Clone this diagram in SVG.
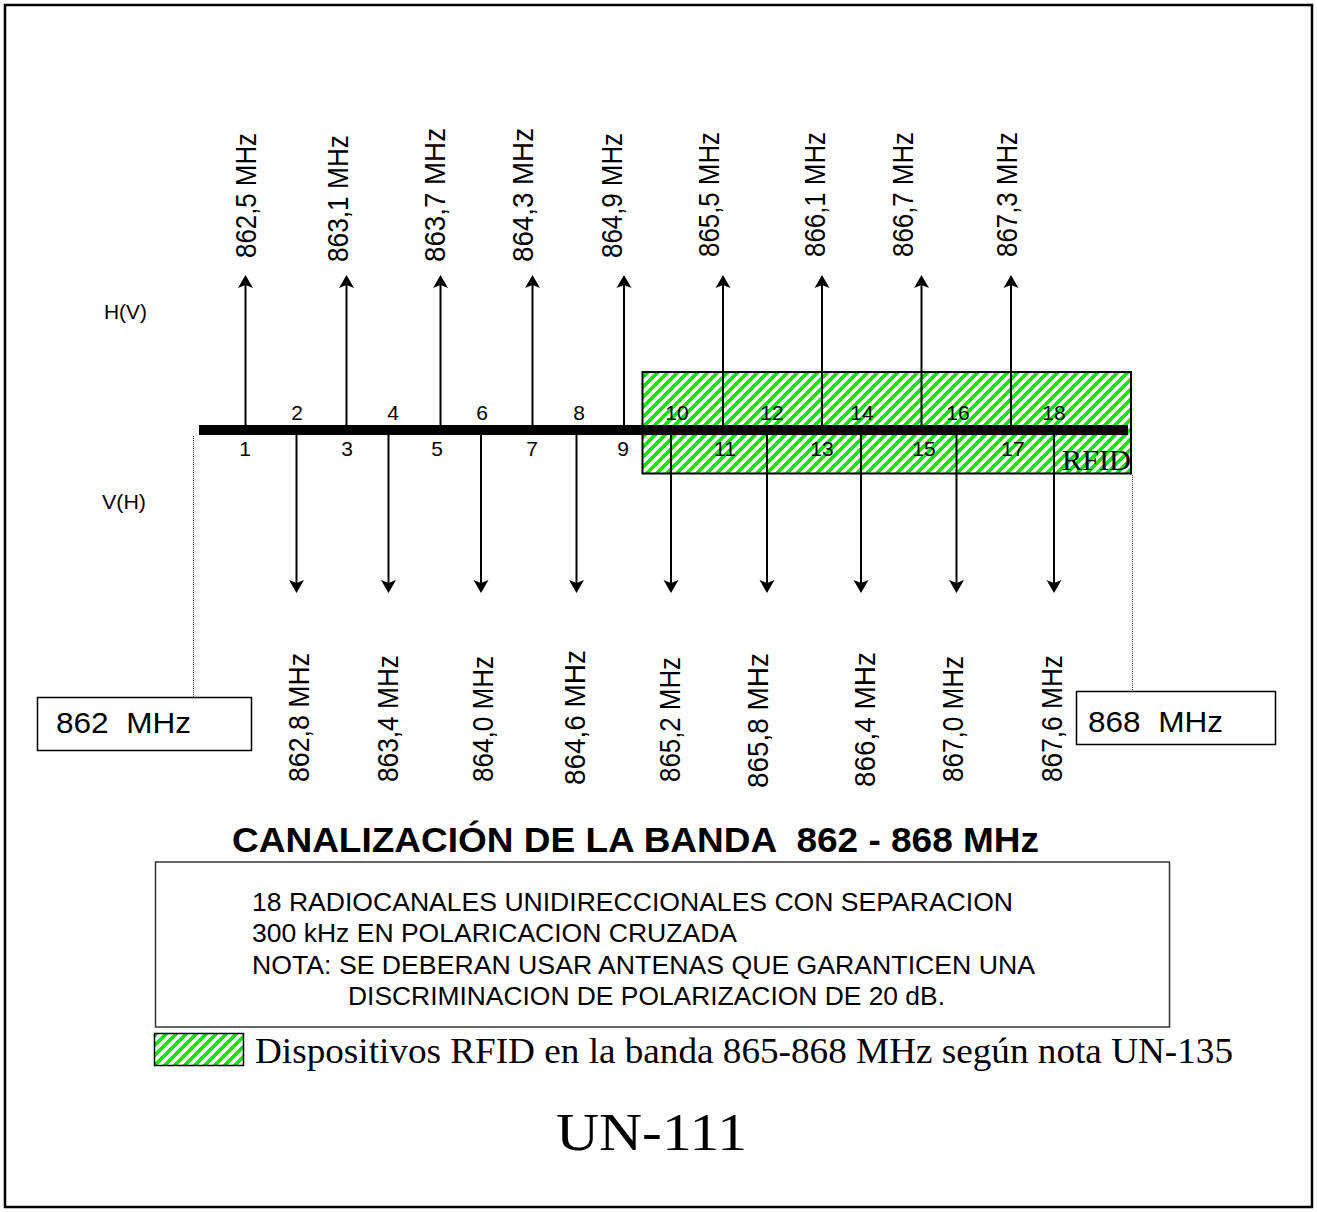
<svg xmlns="http://www.w3.org/2000/svg" width="1317" height="1212" viewBox="0 0 1317 1212">
<style>
.sans{font-family:"Liberation Sans",Arial,sans-serif;fill:#000}
.serif{font-family:"Liberation Serif","Times New Roman",serif;fill:#000}
.freq{font-size:30px}
.num{font-size:21px;text-anchor:middle}
.shaft{stroke:#000;stroke-width:2;fill:none}
.up{marker-end:url(#arrow)}
.dot{stroke:#444;stroke-width:1;stroke-dasharray:1 1;fill:none}
.box{fill:#fff;stroke:#000;stroke-width:1.5}
</style>
<defs>
<marker id="arrow" viewBox="-4 -8 15 16" markerWidth="15" markerHeight="16" refX="0" refY="0" orient="auto" markerUnits="userSpaceOnUse">
<path d="M10,0 L-3,-7.5 L0,0 L-3,7.5 Z" fill="#000"/>
</marker>
<pattern id="hatch" patternUnits="userSpaceOnUse" width="10" height="10">
<rect width="10" height="10" fill="#fff"/>
<path d="M-2,2 L2,-2 M0,10 L10,0 M8,12 L12,8" stroke="#00e600" stroke-width="3.6"/>
</pattern>
</defs>

<rect id="frame" x="5" y="5" width="1307" height="1202" fill="#fff" stroke="#000" stroke-width="2.5"/>

<g id="labels-side" class="sans">
<text x="104" y="319" font-size="21" textLength="43" lengthAdjust="spacingAndGlyphs">H(V)</text>
<text x="102" y="509" font-size="21" textLength="44" lengthAdjust="spacingAndGlyphs">V(H)</text>
</g>

<g id="rfid-band">
<rect x="642.5" y="372" width="488.5" height="101.5" fill="url(#hatch)" stroke="#000" stroke-width="2"/>
</g>

<g id="connectors">
<line class="dot" x1="193.5" y1="436" x2="193.5" y2="697"/>
<line class="dot" x1="1132.5" y1="475" x2="1132.5" y2="691"/>
<g id="up-arrows">
<line class="shaft up" x1="245.5" y1="426" x2="245.5" y2="285"/>
<line class="shaft up" x1="346.5" y1="426" x2="346.5" y2="285"/>
<line class="shaft up" x1="440.5" y1="426" x2="440.5" y2="285"/>
<line class="shaft up" x1="532.5" y1="426" x2="532.5" y2="285"/>
<line class="shaft up" x1="624" y1="426" x2="624" y2="285"/>
<line class="shaft up" x1="723" y1="426" x2="723" y2="285"/>
<line class="shaft up" x1="822" y1="426" x2="822" y2="285"/>
<line class="shaft up" x1="921.5" y1="426" x2="921.5" y2="285"/>
<line class="shaft up" x1="1011" y1="426" x2="1011" y2="285"/>
</g>
<g id="down-arrows">
<line class="shaft up" x1="296.5" y1="434" x2="296.5" y2="583"/>
<line class="shaft up" x1="388.5" y1="434" x2="388.5" y2="583"/>
<line class="shaft up" x1="481" y1="434" x2="481" y2="583"/>
<line class="shaft up" x1="576.5" y1="434" x2="576.5" y2="583"/>
<line class="shaft up" x1="671" y1="434" x2="671" y2="583"/>
<line class="shaft up" x1="767" y1="434" x2="767" y2="583"/>
<line class="shaft up" x1="861" y1="434" x2="861" y2="583"/>
<line class="shaft up" x1="956.5" y1="434" x2="956.5" y2="583"/>
<line class="shaft up" x1="1054" y1="434" x2="1054" y2="583"/>
</g>
</g>

<g id="band-axis">
<rect x="199" y="425" width="929" height="10" fill="#000"/>
</g>

<g id="channel-numbers" class="sans num">
<text x="245" y="456">1</text>
<text x="297" y="420">2</text>
<text x="347" y="456">3</text>
<text x="393" y="420">4</text>
<text x="437" y="456">5</text>
<text x="482" y="420">6</text>
<text x="532" y="456">7</text>
<text x="579" y="420">8</text>
<text x="623" y="456">9</text>
<text x="677" y="420">10</text>
<text x="725" y="456">11</text>
<text x="772" y="420">12</text>
<text x="822" y="456">13</text>
<text x="862" y="420">14</text>
<text x="924" y="456">15</text>
<text x="958" y="420">16</text>
<text x="1013" y="456">17</text>
<text x="1054" y="420">18</text>
</g>

<text id="rfid-label" class="serif" x="1062" y="470" font-size="30" textLength="69" lengthAdjust="spacingAndGlyphs">RFID</text>

<g id="freq-up" class="sans freq" xml:space="preserve">
<text transform="translate(256,258) rotate(-90)" textLength="125" lengthAdjust="spacingAndGlyphs">862,5 MHz</text>
<text transform="translate(348,262) rotate(-90)" textLength="127" lengthAdjust="spacingAndGlyphs">863,1 MHz</text>
<text transform="translate(445,262) rotate(-90)" textLength="134" lengthAdjust="spacingAndGlyphs">863,7  MHz</text>
<text transform="translate(533,262) rotate(-90)" textLength="134" lengthAdjust="spacingAndGlyphs">864,3  MHz</text>
<text transform="translate(622,258) rotate(-90)" textLength="125" lengthAdjust="spacingAndGlyphs">864,9 MHz</text>
<text transform="translate(719,257) rotate(-90)" textLength="125" lengthAdjust="spacingAndGlyphs">865,5 MHz</text>
<text transform="translate(825,257) rotate(-90)" textLength="125" lengthAdjust="spacingAndGlyphs">866,1 MHz</text>
<text transform="translate(913,257) rotate(-90)" textLength="125" lengthAdjust="spacingAndGlyphs">866,7 MHz</text>
<text transform="translate(1017,257) rotate(-90)" textLength="125" lengthAdjust="spacingAndGlyphs">867,3 MHz</text>
</g>

<g id="freq-down" class="sans freq" xml:space="preserve">
<text transform="translate(309,782) rotate(-90)" textLength="129" lengthAdjust="spacingAndGlyphs">862,8 MHz</text>
<text transform="translate(398,782) rotate(-90)" textLength="127" lengthAdjust="spacingAndGlyphs">863,4 MHz</text>
<text transform="translate(493,782) rotate(-90)" textLength="126" lengthAdjust="spacingAndGlyphs">864,0 MHz</text>
<text transform="translate(585,785) rotate(-90)" textLength="135" lengthAdjust="spacingAndGlyphs">864,6  MHz</text>
<text transform="translate(680,782) rotate(-90)" textLength="125" lengthAdjust="spacingAndGlyphs">865,2 MHz</text>
<text transform="translate(768,788) rotate(-90)" textLength="135" lengthAdjust="spacingAndGlyphs">865,8  MHz</text>
<text transform="translate(875,787) rotate(-90)" textLength="135" lengthAdjust="spacingAndGlyphs">866,4  MHz</text>
<text transform="translate(963,782) rotate(-90)" textLength="126" lengthAdjust="spacingAndGlyphs">867,0 MHz</text>
<text transform="translate(1062,782) rotate(-90)" textLength="127" lengthAdjust="spacingAndGlyphs">867,6 MHz</text>
</g>

<g id="limit-862">
<rect class="box" x="37.5" y="697.5" width="214" height="53"/>
<text class="sans" x="56" y="733" font-size="30" textLength="135" lengthAdjust="spacingAndGlyphs" xml:space="preserve">862  MHz</text>
</g>
<g id="limit-868">
<rect class="box" x="1076.5" y="691.5" width="199" height="53"/>
<text class="sans" x="1088" y="732" font-size="30" textLength="135" lengthAdjust="spacingAndGlyphs" xml:space="preserve">868  MHz</text>
</g>

<text id="title" class="sans" x="232" y="852" font-size="35" font-weight="bold" textLength="807" lengthAdjust="spacingAndGlyphs" xml:space="preserve">CANALIZACIÓN DE LA BANDA  862 - 868 MHz</text>

<g id="note-box">
<rect x="155.5" y="862" width="1014" height="165" fill="#fff" stroke="#333" stroke-width="1.5"/>
<g class="sans" font-size="25">
<text x="252" y="911" textLength="761" lengthAdjust="spacingAndGlyphs">18 RADIOCANALES UNIDIRECCIONALES CON SEPARACION</text>
<text x="252" y="942" textLength="485" lengthAdjust="spacingAndGlyphs">300 kHz EN POLARICACION CRUZADA</text>
<text x="252" y="974" textLength="783" lengthAdjust="spacingAndGlyphs">NOTA: SE DEBERAN USAR ANTENAS QUE GARANTICEN UNA</text>
<text x="348" y="1005" textLength="597" lengthAdjust="spacingAndGlyphs">DISCRIMINACION DE POLARIZACION DE 20 dB.</text>
</g>
</g>

<g id="legend">
<rect x="154.5" y="1033.5" width="89" height="32" fill="url(#hatch)" stroke="#000" stroke-width="1.5"/>
<text class="serif" x="255" y="1063" font-size="36" textLength="978" lengthAdjust="spacingAndGlyphs">Dispositivos RFID en la banda 865-868 MHz según nota UN-135</text>
</g>

<text id="doc-id" class="serif" x="556" y="1150" font-size="52" textLength="191" lengthAdjust="spacingAndGlyphs">UN-111</text>
</svg>
